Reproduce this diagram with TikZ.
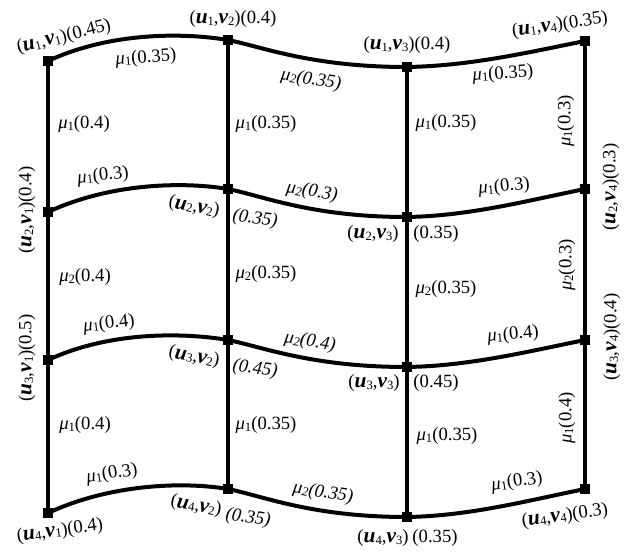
\documentclass[tikz,border=0pt]{standalone}
\usepackage{fontspec}
\setmainfont{Liberation Serif}
\newcommand{\sbs}[1]{{\fontsize{9.5}{9.5}\selectfont\raisebox{-0.3ex}{#1}}}
\newcommand{\uvar}[1]{{\fontsize{16}{16}\selectfont\bfseries\itshape u}\sbs{#1}}
\newcommand{\vvar}[1]{{\fontsize{16}{16}\selectfont\bfseries\itshape v}\sbs{#1}}
\newcommand{\mlab}[2]{\textit{μ}\sbs{#1}(#2)}
\newcommand{\vlab}[2]{(\uvar{#1},\vvar{#2})}
\begin{document}
\begin{tikzpicture}[x=0.75pt,y=-0.75pt,
  every node/.style={font=\fontsize{14}{16}\selectfont, inner sep=0pt},
  vtx/.style={fill=black, minimum width=7pt, minimum height=6.5pt, inner sep=0pt},
  link/.style={line width=3pt},
  ital/.style={font=\fontsize{14}{16}\selectfont\itshape}]
\useasboundingbox (0,0) rectangle (625,553);
% vertices
\node[vtx] (n11) at (48,61) {};
\node[vtx] (n12) at (228,40) {};
\node[vtx] (n13) at (407,67) {};
\node[vtx] (n14) at (585,41) {};
\node[vtx] (n21) at (48,212) {};
\node[vtx] (n22) at (228,189) {};
\node[vtx] (n23) at (407,217) {};
\node[vtx] (n24) at (585,189) {};
\node[vtx] (n31) at (48,360) {};
\node[vtx] (n32) at (228,340) {};
\node[vtx] (n33) at (407,367) {};
\node[vtx] (n34) at (585,340) {};
\node[vtx] (n41) at (48,513) {};
\node[vtx] (n42) at (228,489) {};
\node[vtx] (n43) at (407,517) {};
\node[vtx] (n44) at (585,489) {};
% vertical lines
\draw[link] (n11.center) -- (n21.center) -- (n31.center) -- (n41.center);
\draw[link] (n12.center) -- (n22.center) -- (n32.center) -- (n42.center);
\draw[link] (n13.center) -- (n23.center) -- (n33.center) -- (n43.center);
\draw[link] (n14.center) -- (n24.center) -- (n34.center) -- (n44.center);
% horizontal curves
\foreach \r in {1,2,3,4}{
  \draw[link] (n\r1.center) .. controls +(60,-28) and +(-48,-8) .. (n\r2.center)
    .. controls +(35,7) and +(-95,0) .. (n\r3.center)
    .. controls +(63,-1) and +(-55,11) .. (n\r4.center);
}
% re-draw vertices on top
\foreach \r in {1,2,3,4}{\foreach \c in {1,2,3,4}{\fill (n\r\c.south west) rectangle (n\r\c.north east);}}
% vertex labels
\node[rotate=14] (l11) at (64,37) {\vlab{1}{1}(0.45)};
\node (l12) at (233,19) {\vlab{1}{2}(0.4)};
\node (l13) at (407,45) {\vlab{1}{3}(0.4)};
\node[rotate=8] (l14) at (560,25) {\vlab{1}{4}(0.35)};
\node[rotate=90] (l21) at (27,210) {\vlab{2}{1}(0.4)};
\node[rotate=90] (l31) at (27,358) {\vlab{3}{1}(0.5)};
\node[rotate=8] (l41) at (60,531) {\vlab{4}{1}(0.4)};
\node[rotate=-10] (l22) at (194,207) {\vlab{2}{2}};
\node[rotate=-8,ital] (m22) at (255,219) {(0.35)};
\node[rotate=-10] (l32) at (194,357) {\vlab{3}{2}};
\node[rotate=-8,ital] (m32) at (255,369) {(0.45)};
\node[rotate=-10] (l42) at (196,506) {\vlab{4}{2}};
\node[rotate=-8,ital] (m42) at (248,518) {(0.35)};
\node (l23) at (373,234) {\vlab{2}{3}};
\node (m23) at (436,234) {(0.35)};
\node (l33) at (374,383) {\vlab{3}{3}};
\node (m33) at (436,383) {(0.45)};
\node (l43) at (383,538) {\vlab{4}{3}};
\node (m43) at (435,538) {(0.35)};
\node[rotate=90] (l24) at (611,187) {\vlab{2}{4}(0.3)};
\node[rotate=90] (l34) at (612,337) {\vlab{3}{4}(0.4)};
\node[rotate=8] (l44) at (565,516) {\vlab{4}{4}(0.3)};
% horizontal edge labels
\node[rotate=4] (e112) at (146,58) {\mlab{1}{0.35}};
\node[rotate=-9,ital] (e123) at (311,80) {\mlab{2}{0.35}};
\node[rotate=4] (e134) at (503,74) {\mlab{1}{0.35}};
\node[rotate=6] (e212) at (103,176) {\mlab{1}{0.3}};
\node[rotate=-9,ital] (e223) at (312,192) {\mlab{2}{0.3}};
\node[rotate=5] (e234) at (504,187) {\mlab{1}{0.3}};
\node[rotate=6] (e312) at (109,324) {\mlab{1}{0.4}};
\node[rotate=-9,ital] (e323) at (310,342) {\mlab{2}{0.4}};
\node[rotate=5] (e334) at (513,335) {\mlab{1}{0.4}};
\node[rotate=8] (e412) at (112,474) {\mlab{1}{0.3}};
\node[rotate=-9,ital] (e423) at (323,493) {\mlab{2}{0.35}};
\node[rotate=8] (e434) at (517,482) {\mlab{1}{0.3}};
% vertical edge labels
\node (f11) at (84,124) {\mlab{1}{0.4}};
\node (f21) at (85,277) {\mlab{2}{0.4}};
\node (f31) at (85,425) {\mlab{1}{0.4}};
\node (f12) at (266,124) {\mlab{1}{0.35}};
\node (f22) at (266,274) {\mlab{2}{0.35}};
\node (f32) at (266,425) {\mlab{1}{0.35}};
\node (f13) at (446,123) {\mlab{1}{0.35}};
\node (f23) at (446,289) {\mlab{2}{0.35}};
\node (f33) at (447,436) {\mlab{1}{0.35}};
\node[rotate=90] (f14) at (566,121) {\mlab{1}{0.3}};
\node[rotate=90] (f24) at (567,265) {\mlab{2}{0.3}};
\node[rotate=90] (f34) at (567,418) {\mlab{1}{0.4}};
\end{tikzpicture}
\end{document}
